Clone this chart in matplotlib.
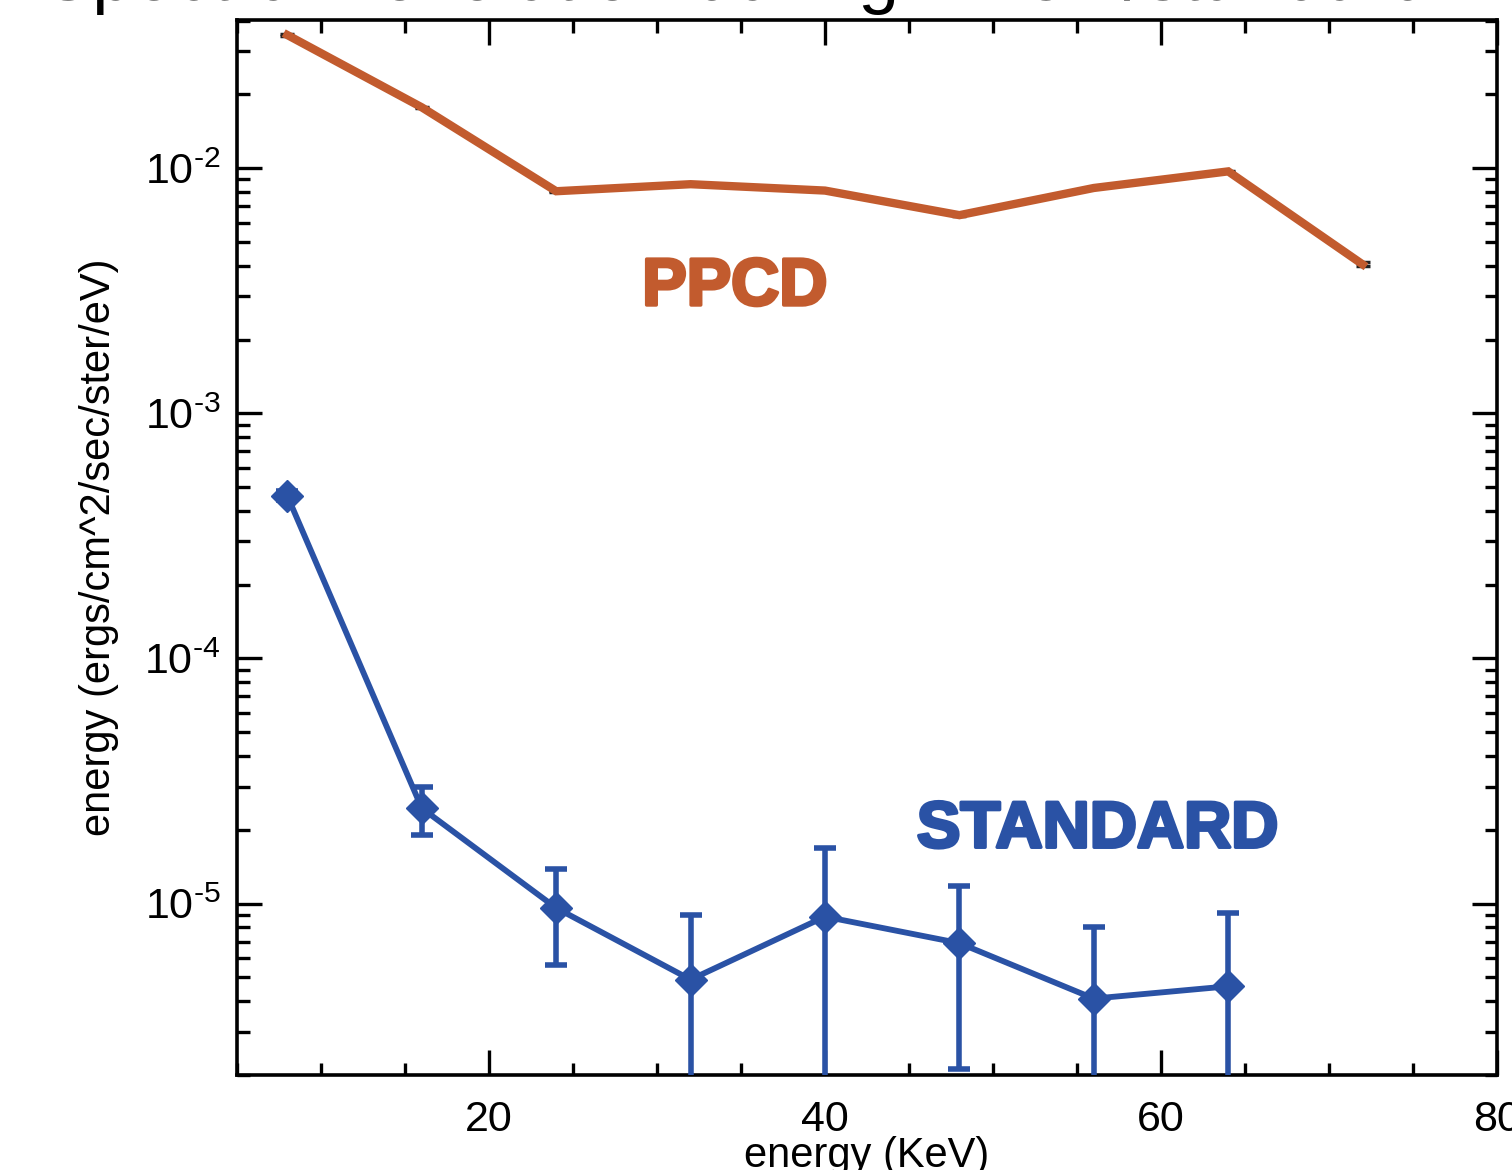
import numpy as np
import matplotlib
matplotlib.use('Agg')
import matplotlib.pyplot as plt
import matplotlib.patheffects as pe
from matplotlib.ticker import MultipleLocator, LogLocator, FixedLocator, FixedFormatter, NullFormatter

plt.rcParams['font.family'] = ['Liberation Sans', 'DejaVu Sans']
plt.rcParams['mathtext.fontset'] = 'custom'
plt.rcParams['mathtext.rm'] = 'Liberation Sans'
plt.rcParams['mathtext.it'] = 'Liberation Sans'

# data
energy = [8, 16, 24, 32, 40, 48, 56, 64, 72]
ppcd = [0.0349, 0.0177, 0.00805, 0.0086, 0.0081, 0.00643, 0.0083, 0.0097, 0.00405]
ppcd_err = [0.0003, 0.0001, 0.00004, 0.00004, 0.00004, 0.00003, 0.00004, 0.00005, 0.00008]

std_energy = [8, 16, 24, 32, 40, 48, 56, 64]
standard = [4.6e-4, 2.45e-5, 9.6e-6, 4.9e-6, 8.85e-6, 6.9e-6, 4.1e-6, 4.6e-6]
std_hi = [4.8e-4, 2.98e-5, 1.38e-5, 9.0e-6, 1.69e-5, 1.18e-5, 8.05e-6, 9.2e-6]
std_lo = [4.45e-4, 1.9e-5, 5.64e-6, 1e-7, 1e-7, 2.12e-6, 1e-7, 1e-7]

ytick_vals = [1e-5, 1e-4, 1e-3, 1e-2]
ytick_labels = ['10$^{\\text{-}5}$', '10$^{\\text{-}4}$', '10$^{\\text{-}3}$', '10$^{\\text{-}2}$']

orange = '#C25B2E'
blue = '#2A52A5'

fig = plt.figure(figsize=(15.12, 11.7), dpi=100)
ax = fig.add_axes([237/1512, 1 - 1075/1170, 1260/1512, 1055/1170])

ax.errorbar(energy, ppcd, yerr=ppcd_err, fmt='none', ecolor='#222222',
            elinewidth=2, capsize=5, capthick=2.5, zorder=2)
ax.plot(energy, ppcd, color=orange, lw=6, solid_joinstyle='miter', zorder=3)

lo = np.array(standard) - np.array(std_lo)
hi = np.array(std_hi) - np.array(standard)
ax.errorbar(std_energy, standard, yerr=[lo, hi], fmt='none', ecolor=blue,
            elinewidth=4, capsize=8, capthick=4, zorder=3)
ax.plot(std_energy, standard, color=blue, lw=4.2, marker='D', markersize=16,
        markerfacecolor=blue, markeredgecolor=blue, zorder=4)

ax.set_yscale('log')
ax.set_xlim(5, 80)
ax.set_ylim(2e-6, 0.0402)

ax.xaxis.set_major_locator(FixedLocator([20, 40, 60, 80]))
ax.xaxis.set_minor_locator(MultipleLocator(5))
ax.yaxis.set_major_locator(FixedLocator(ytick_vals))
ax.yaxis.set_major_formatter(FixedFormatter(ytick_labels))
ax.yaxis.set_minor_locator(LogLocator(base=10, subs=np.arange(2, 10)))
ax.yaxis.set_minor_formatter(NullFormatter())

ax.tick_params(which='both', direction='in', top=True, right=True, width=2.4, colors='black')
ax.tick_params(which='major', length=18)
ax.tick_params(which='minor', length=9)
ax.tick_params(axis='x', which='major', labelsize=31, pad=18)
ax.tick_params(axis='y', which='major', labelsize=31, pad=12)
for s in ax.spines.values():
    s.set_linewidth(2.6)

ax.set_xlabel('energy (KeV)', fontsize=30)
ax.set_ylabel('energy (ergs/cm^2/sec/ster/eV)', fontsize=30)
ax.xaxis.set_label_coords(0.5, -0.058)
ax.yaxis.set_label_coords(-0.094, 0.5)

ax.text(0.395, 0.746, 'PPCD', transform=ax.transAxes, color=orange, fontsize=48,
        fontweight='bold', ha='center', va='center',
        path_effects=[pe.withStroke(linewidth=2.5, foreground=orange)])
ax.text(0.683, 0.232, 'STANDARD', transform=ax.transAxes, color=blue, fontsize=47,
        fontweight='bold', ha='center', va='center',
        path_effects=[pe.withStroke(linewidth=2.5, foreground=blue)])

fig.text(43/1512, 1.0, 'Spectrum evolution during PPCD/standard', fontsize=53,
         ha='left', va='baseline')

fig.savefig('out.png', dpi=100)
